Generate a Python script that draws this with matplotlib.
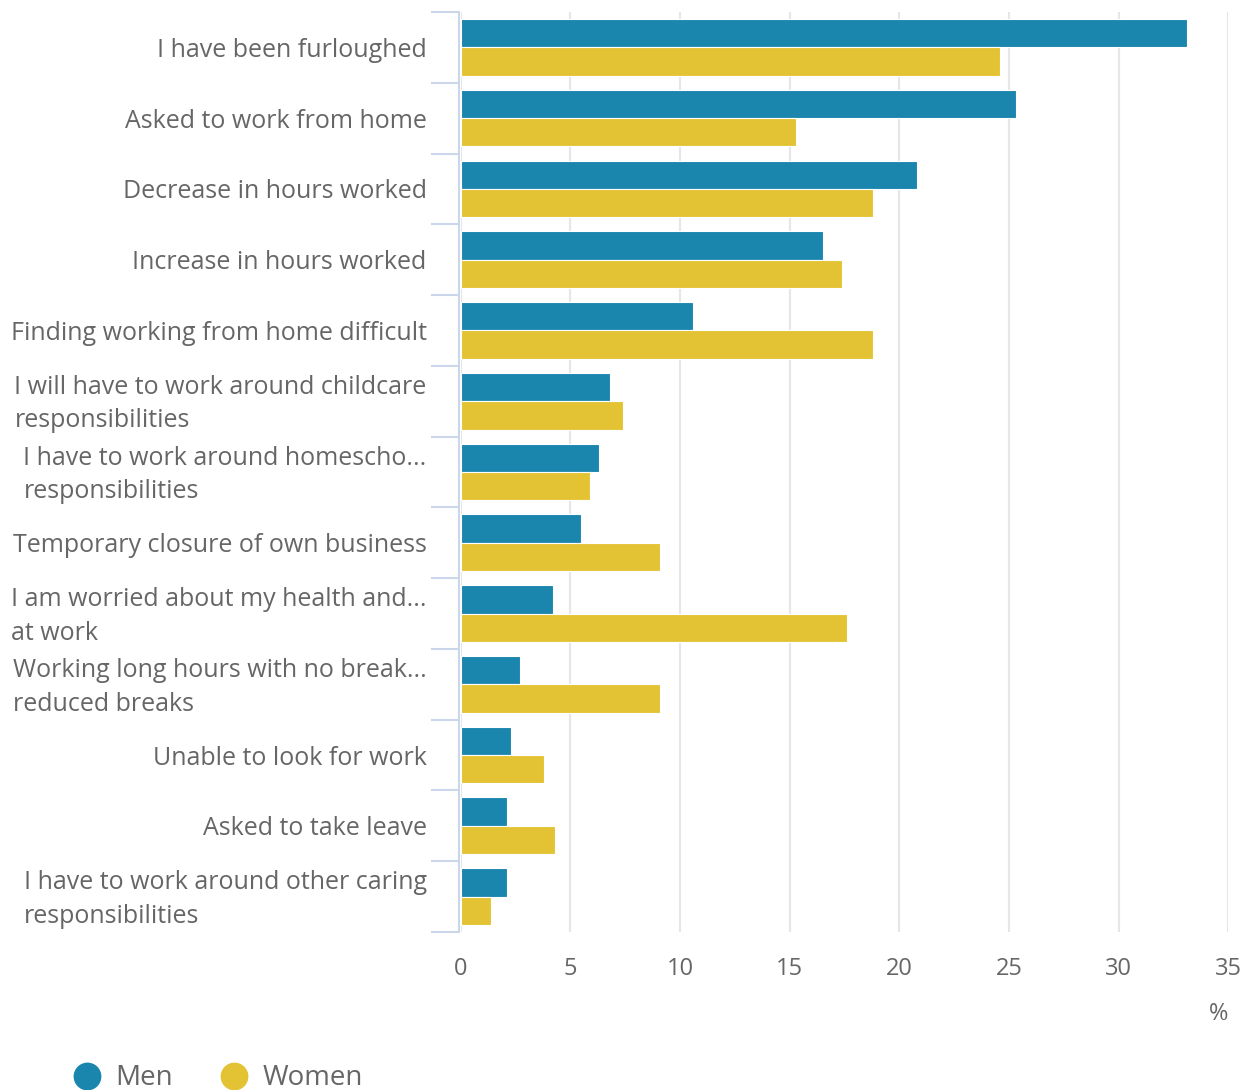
import matplotlib.pyplot as plt
import numpy as np

## Chart data
categories = [
    'I have been furloughed',
    'Asked to work from home',
    'Decrease in hours worked',
    'Increase in hours worked',
    'Finding working from home difficult',
    'I will have to work around childcare\nresponsibilities',
    'I have to work around homescho...\nresponsibilities',
    'Temporary closure of own business',
    'I am worried about my health and...\nat work',
    'Working long hours with no break...\nreduced breaks',
    'Unable to look for work',
    'Asked to take leave',
    'I have to work around other caring\nresponsibilities',
]
men = [33.1, 25.3, 20.8, 16.5, 10.6, 6.8, 6.3, 5.5, 4.2, 2.7, 2.3, 2.1, 2.1]
women = [24.6, 15.3, 18.8, 17.4, 18.8, 7.4, 5.9, 9.1, 17.6, 9.1, 3.8, 4.3, 1.4]
series_names = ['Men', 'Women']
x_ticks = [0, 5, 10, 15, 20, 25, 30, 35]

## Styling
plt.rcParams['font.family'] = ['Open Sans', 'DejaVu Sans']
blue = '#1a85ad'
yellow = '#e3c334'
text_col = '#666666'
axis_col = '#ccd6eb'

fig = plt.figure(figsize=(12.52, 10.9), dpi=100)
ax = fig.add_axes([0.368, 0.145, 0.613, 0.844])

y = np.arange(len(categories))
h = 0.4
ax.barh(y - h / 2, men, height=h, color=blue, edgecolor='white', linewidth=0.8, label=series_names[0], zorder=3)
ax.barh(y + h / 2, women, height=h, color=yellow, edgecolor='white', linewidth=0.8, label=series_names[1], zorder=3)

ax.set_ylim(len(categories) - 0.5, -0.5)
ax.set_xlim(0, 35)
ax.set_xticks(x_ticks)
ax.set_xticklabels([str(v) for v in x_ticks])

## Boundary ticks on the left axis
ax.set_yticks(np.arange(-0.5, len(categories)), minor=True)
ax.tick_params(axis='y', which='minor', length=20, width=1.5, color=axis_col)
ax.set_yticks(y)
ax.set_yticklabels([])
ax.tick_params(axis='y', which='major', length=0)

## Category labels: block right-aligned to the axis, lines left-aligned
for i, cat in enumerate(categories):
    ax.annotate(cat, xy=(0, i), xycoords=('axes fraction', 'data'), xytext=(-34, -3),
                textcoords='offset pixels', ha='right', va='center', multialignment='left',
                linespacing=1.45, fontsize=18, color=text_col)

ax.tick_params(axis='x', length=0, pad=18, labelsize=17, labelcolor=text_col)
ax.grid(axis='x', color='#e6e6e6', linewidth=1.5, zorder=0)

for side in ['top', 'right', 'bottom']:
    ax.spines[side].set_visible(False)
ax.spines['left'].set_color(axis_col)
ax.spines['left'].set_linewidth(1.5)
ax.spines['left'].set_position(('outward', 1))

fig.text(0.981, 1 - 1014 / 1090, '%', ha='right', va='center', fontsize=17, color=text_col)

## Legend at the bottom left
handles = [plt.Line2D([], [], marker='o', linestyle='', markersize=19, color=c) for c in [blue, yellow]]
fig.legend(handles, series_names, loc='lower left', bbox_to_anchor=(0.027, -0.025), ncol=2,
           frameon=False, fontsize=20, labelcolor=text_col, handletextpad=0.05, columnspacing=1.17)

plt.savefig('out.png', dpi=100)
